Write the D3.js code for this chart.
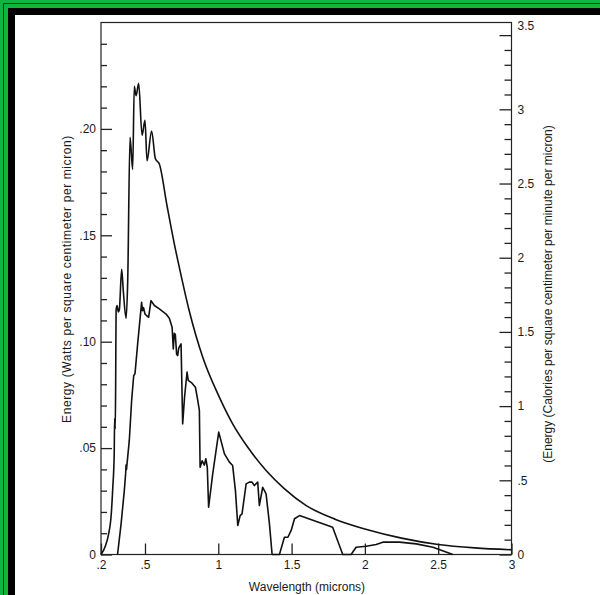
<!DOCTYPE html>
<html>
<head>
<meta charset="utf-8">
<script src="https://cdn.jsdelivr.net/npm/d3@7"></script>
<style>
  html, body { margin: 0; padding: 0; background: #fff; }
  svg { display: block; }
  text { font-family: "Liberation Sans", Arial, Helvetica, sans-serif; fill: #1a1a1a; }
</style>
</head>
<body>
<svg id="chart" width="600" height="595"></svg>
<script>
// ---------- data ----------
const upperWl = [0.20,0.23,0.25,0.27,0.28,0.29,0.293,0.297,0.300,0.303,0.31,0.318,0.325,0.341,0.352,0.371,0.382,0.398,0.416,0.427,0.439,0.457,0.480,0.500,0.514,0.545,0.571,0.598,0.65,0.70,0.734,0.80,0.894,1.00,1.098,1.20,1.326,1.45,1.60,1.80,2.00,2.25,2.50,2.75,3.00];
const upperE  = [0,0.004,0.009,0.019,0.031,0.047,0.064,0.059,0.080,0.115,0.117,0.114,0.115,0.134,0.124,0.111,0.128,0.196,0.181,0.220,0.2156,0.2214,0.197,0.204,0.185,0.199,0.186,0.1835,0.164,0.146,0.135,0.115,0.0927,0.075,0.0614,0.0505,0.0395,0.031,0.023,0.0165,0.0120,0.0077,0.0047,0.0031,0.0022];

const lowerWl = [0.313,0.337,0.359,0.368,0.371,0.374,0.393,0.409,0.423,0.432,0.45,0.477,0.483,0.49,0.50,0.515,0.525,0.541,0.564,0.598,0.644,0.666,0.685,0.693,0.700,0.707,0.716,0.723,0.73,0.746,0.757,0.770,0.787,0.795,0.821,0.844,0.86,0.871,0.876,0.89,0.905,0.915,0.925,0.934,0.962,1.003,1.042,1.076,1.098,1.117,1.133,1.149,1.162,1.19,1.212,1.23,1.246,1.269,1.28,1.303,1.326,1.349,1.367,1.417,1.451,1.475,1.497,1.52,1.554,1.78,1.849,1.906,1.94,2.009,2.077,2.122,2.236,2.35,2.464,2.6];
const lowerE  = [0,0.0144,0.030,0.038,0.042,0.040,0.0536,0.0724,0.084,0.085,0.099,0.1185,0.1146,0.116,0.113,0.112,0.1115,0.1193,0.117,0.1154,0.113,0.111,0.1068,0.0966,0.104,0.1034,0.094,0.0935,0.097,0.099,0.0614,0.074,0.0857,0.0818,0.0805,0.0786,0.0724,0.0677,0.041,0.044,0.042,0.045,0.041,0.0222,0.0379,0.0575,0.0473,0.0434,0.0418,0.030,0.0136,0.0183,0.0191,0.0332,0.034,0.034,0.0324,0.034,0.023,0.0316,0.0285,0.0144,0,0,0.0081,0.0081,0.0113,0.0168,0.0183,0.0128,0,0,0.0034,0.0039,0.0047,0.0058,0.0058,0.005,0.0034,0];

const xTickValues = [0.2,0.5,1,1.5,2,2.5,3];
const xTickLabels = [".2",".5","1","1.5","2","2.5","3"];
const leftTickValues = [0,0.05,0.10,0.15,0.20];
const leftTickLabels = ["0",".05",".10",".15",".20"];
const leftMinorValues = [0.01,0.02,0.03,0.04,0.06,0.07,0.08,0.09,0.11,0.12,0.13,0.14,0.16,0.17,0.18,0.19,0.21,0.22,0.23,0.24];
const rightTickValues = [0,0.5,1,1.5,2,2.5,3,3.5];
const rightTickLabels = ["0",".5","1","1.5","2","2.5","3","3.5"];
const rightMinorValues = [0.1,0.2,0.3,0.4,0.6,0.7,0.8,0.9,1.1,1.2,1.3,1.4,1.6,1.7,1.8,1.9,2.1,2.2,2.3,2.4,2.6,2.7,2.8,2.9,3.1,3.2,3.3,3.4];
const wattsToCalMin = 60 / 4.184;

// ---------- layout ----------
const svg = d3.select("#chart");
const L = 101, R = 511.5, T = 22.5, B = 554.5;

// frame
svg.append("rect").attr("x",0).attr("y",0).attr("width",600).attr("height",595).attr("fill","#fff");
const green = "#0fb53f";
svg.append("rect").attr("x",0).attr("y",0).attr("width",600).attr("height",8).attr("fill",green);
svg.append("rect").attr("x",0).attr("y",0).attr("width",8).attr("height",595).attr("fill",green);
svg.append("line").attr("x1",3.5).attr("x2",600).attr("y1",3.5).attr("y2",3.5).attr("stroke","#0a3a18").attr("stroke-width",1);
svg.append("line").attr("x1",3.5).attr("x2",3.5).attr("y1",3.5).attr("y2",595).attr("stroke","#0a3a18").attr("stroke-width",1);
svg.append("rect").attr("x",8).attr("y",8).attr("width",592).attr("height",7).attr("fill","#000");
svg.append("rect").attr("x",8).attr("y",8).attr("width",7).attr("height",587).attr("fill","#000");

// scales
const x = d3.scaleLinear().domain([0.2,3]).range([L,R]);
const yL = d3.scaleLinear().domain([0,0.25]).range([B,T]);
const yR = d3.scaleLinear().domain([0,0.25*wattsToCalMin]).range([B,T]);

// plot box
svg.append("rect").attr("x",L).attr("y",T).attr("width",R-L).attr("height",B-T)
  .attr("fill","none").attr("stroke","#222").attr("stroke-width",1.2);

function styleAxis(g){
  g.select(".domain").remove();
  g.selectAll(".tick line").attr("stroke","#222").attr("stroke-width",1.3);
  g.selectAll(".tick text").style("font-size","12px");
}

// left axis
svg.append("g").attr("transform",`translate(${L},0)`)
  .call(d3.axisLeft(yL).tickValues(leftMinorValues).tickSize(-6).tickFormat(""))
  .call(styleAxis);
svg.append("g").attr("transform",`translate(${L},0)`)
  .call(d3.axisLeft(yL).tickValues(leftTickValues).tickSize(-11).tickPadding(5)
        .tickFormat((d,i)=>leftTickLabels[i]))
  .call(styleAxis);

// right axis
svg.append("g").attr("transform",`translate(${R},0)`)
  .call(d3.axisRight(yR).tickValues(rightMinorValues).tickSize(-7).tickFormat(""))
  .call(styleAxis);
const rg = svg.append("g").attr("transform",`translate(${R},0)`)
  .call(d3.axisRight(yR).tickValues(rightTickValues).tickSize(-12).tickPadding(6)
        .tickFormat((d,i)=>rightTickLabels[i]))
  .call(styleAxis);
rg.selectAll(".tick text").filter(d=>d===3.5).attr("dy","-0.5em");

// bottom axis
svg.append("g").attr("transform",`translate(0,${B})`)
  .call(d3.axisBottom(x).tickValues(xTickValues).tickSize(-11).tickPadding(6)
        .tickFormat((d,i)=>xTickLabels[i]))
  .call(styleAxis);

// curves
const upper = upperWl.map((w,i)=>[w,upperE[i]]);
const lower = lowerWl.map((w,i)=>[w,lowerE[i]]);
const lineU = d3.line().x(d=>x(d[0])).y(d=>yL(d[1])).curve(d3.curveMonotoneX);
const lineL = d3.line().x(d=>x(d[0])).y(d=>yL(d[1])).curve(d3.curveLinear);
svg.append("path").datum(upper).attr("d",lineU).attr("fill","none")
  .attr("stroke","#111").attr("stroke-width",1.6).attr("stroke-linejoin","round");
svg.append("path").datum(lower).attr("d",lineL).attr("fill","none")
  .attr("stroke","#111").attr("stroke-width",1.6).attr("stroke-linejoin","round");

// titles
svg.append("text").attr("x",307).attr("y",591).attr("text-anchor","middle")
  .style("font-size","12px").text("Wavelength (microns)");
svg.append("text").attr("transform","translate(71,279) rotate(-90)").attr("text-anchor","middle")
  .style("font-size","12px").style("letter-spacing","0.6px")
  .text("Energy (Watts per square centimeter per micron)");
svg.append("text").attr("transform","translate(552,294) rotate(-90)").attr("text-anchor","middle")
  .style("font-size","12px")
  .text("(Energy (Calories per square centimeter per minute per micron)");
</script>
</body>
</html>
